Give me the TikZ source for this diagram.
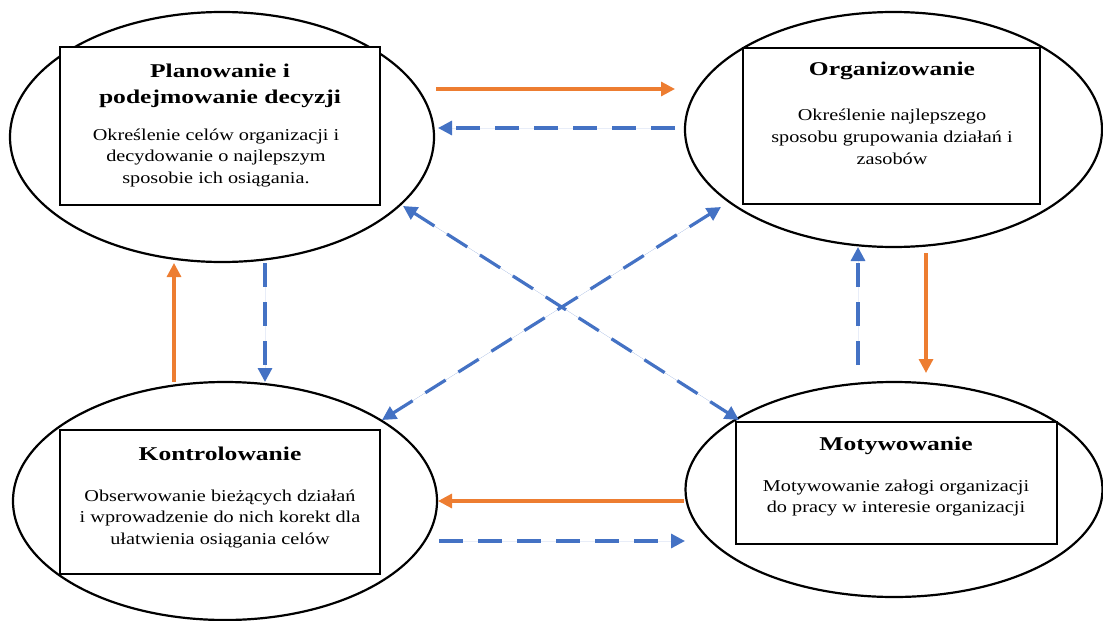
\documentclass[tikz,border=0pt]{standalone}
\usepackage{fontspec}
\setmainfont[FakeStretch=1.31]{Liberation Serif}
\newfontfamily\blurbfont[FakeStretch=1.22]{Liberation Serif}
\usetikzlibrary{arrows.meta,shapes.geometric}
\definecolor{flowor}{HTML}{ED7D31}
\definecolor{flowbl}{HTML}{4472C4}
\begin{document}
\begin{tikzpicture}[x=1pt,y=-1pt,
  oval/.style={draw=black,line width=2.2pt,ellipse,inner sep=0pt},
  card/.style={draw=black,line width=2.8pt,rectangle,inner sep=0pt,fill=white},
  headline/.style={font=\fontsize{19.5}{26.5}\selectfont\bfseries,align=center,inner sep=0pt},
  blurb/.style={font=\blurbfont\fontsize{16.6}{21.7}\selectfont,align=center,inner sep=0pt},
  tipshape/.style={-{Triangle[length=14pt,width=14pt]}},
  solidflow/.style={tipshape,draw=flowor,fill=flowor,line width=3.2pt},
  dashflow/.style={tipshape,draw=flowbl,fill=flowbl,line width=3.2pt,dash pattern=on 24pt off 15pt},
  bothflow/.style={dashflow,{Triangle[length=14pt,width=14pt]}-{Triangle[length=14pt,width=14pt]}}]
\useasboundingbox (0,0) rectangle (1103,621);

% four function ellipses
\node[oval,minimum width=424pt,minimum height=250pt] (e1) at (222,137) {};
\node[oval,minimum width=417pt,minimum height=235pt] (e2) at (893.5,129.5) {};
\node[oval,minimum width=424pt,minimum height=238pt] (e3) at (225,501) {};
\node[oval,minimum width=417pt,minimum height=215pt] (e4) at (894,489.5) {};

% framed descriptions
\node[card,minimum width=320pt,minimum height=158pt] (r1) at (220,126) {};
\node[card,minimum width=297pt,minimum height=156pt] (r2) at (891.5,126) {};
\node[card,minimum width=320pt,minimum height=144pt] (r3) at (220,502) {};
\node[card,minimum width=321pt,minimum height=122pt] (r4) at (896.5,483) {};

\node[headline] (h1) at (220,86) {Planowanie i\\podejmowanie decyzji};
\node[blurb] (b1) at (216,158) {Określenie celów organizacji i\\decydowanie o najlepszym\\sposobie ich osiągania.};

\node[headline] (h2) at (892,71) {Organizowanie};
\node[blurb] (b2) at (892,137) {Określenie najlepszego\\sposobu grupowania działań i\\zasobów};

\node[headline] (h3) at (220,454) {Kontrolowanie};
\node[blurb] (b3) at (220,519) {Obserwowanie bieżących działań\\i wprowadzenie do nich korekt dla\\ułatwienia osiągania celów};

\node[headline] (h4) at (896,446) {Motywowanie};
\node[blurb] (b4) at (896,498) {Motywowanie załogi organizacji\\do pracy w interesie organizacji};

% connector end points
\coordinate (t1) at (436,89);   \coordinate (t2) at (675,89);
\coordinate (u2) at (675,128);  \coordinate (u1) at (438,128);
\coordinate (v3) at (174,382);  \coordinate (v1) at (174,263);
\coordinate (w1) at (265,263);  \coordinate (w3) at (265,382);
\coordinate (p4) at (858,365);  \coordinate (p2) at (858,247);
\coordinate (q2) at (926,253);  \coordinate (q4) at (926,373);
\coordinate (m4) at (684,501);  \coordinate (m3) at (438,501);
\coordinate (n3) at (439,541);  \coordinate (n4) at (685,541);
\coordinate (d1) at (403,206);  \coordinate (d4) at (739,420);
\coordinate (c2) at (721,207);  \coordinate (c3) at (382,420);

% connectors
\draw[solidflow] (t1) -- (t2);
\draw[dashflow]  (u2) -- (u1);
\draw[solidflow] (v3) -- (v1);
\draw[dashflow]  (w1) -- (w3);
\draw[dashflow]  (p4) -- (p2);
\draw[solidflow] (q2) -- (q4);
\draw[solidflow] (m4) -- (m3);
\draw[dashflow]  (n3) -- (n4);
\draw[bothflow]  (d1) -- (d4);
\draw[bothflow]  (c2) -- (c3);
\end{tikzpicture}
\end{document}
